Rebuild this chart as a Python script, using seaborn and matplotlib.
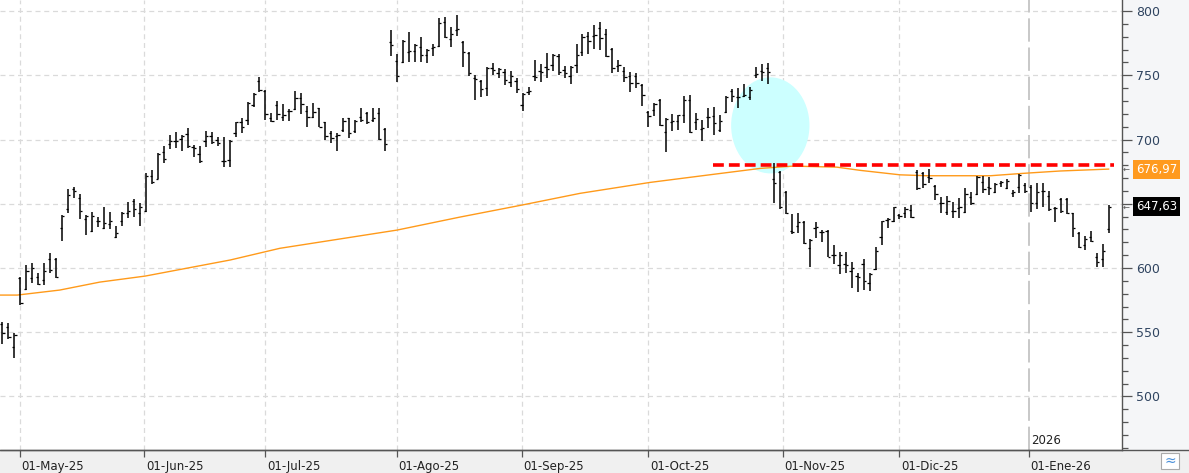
import seaborn as sns
import matplotlib.pyplot as plt
import matplotlib.transforms as mtransforms
from matplotlib.patches import Ellipse, Rectangle
from matplotlib.lines import Line2D
import pandas as pd
import numpy as np

sns.set_style("white")
plt.rcParams['font.family'] = ['DejaVu Sans']

# daily OHLC bars (one entry per session)
opens = [556, 554.3, 538.7, 592, 583.3, 591.9, 592.7, 590.6, 606.7, 606.7,
         630.8, 645.6, 661.2, 654.7, 637.8, 629, 636.3, 631.3, 634.2, 624.3,
         636.3, 642.5, 652.4, 642.5, 644.6, 671.6, 669.5, 690.5, 696.5, 698.8,
         700.1, 704.3, 694.4, 688.7, 699.1, 702.7, 699.6, 683.5, 684, 705.3,
         713.3, 715.1, 726.8, 745.5, 737.7, 716.4, 726.8, 717.7, 722.2, 723.7,
         732, 722.2, 717.7, 724.2, 713.3, 704.8, 702.9, 707.4, 716.4, 706.6,
         717.7, 720.3, 715.1, 720.3, 708.1, 775.6, 761.1, 760, 768.3, 768.9,
         772.2, 765.7, 770.9, 773, 791.2, 778.2, 785.2, 775.6, 767, 748.1,
         745.5, 739.8, 755.4, 751.5, 752.8, 744.5, 745.5, 726.8, 736.7, 749.7,
         753.3, 756.7, 758, 765.2, 754.1, 749.7, 758, 767.8, 780.8, 780.8,
         787, 781.8, 770.4, 757.4, 753.3, 749.7, 749.7, 742.4, 721.1, 722.9,
         730.7, 706.1, 713.9, 714.4, 719, 731, 713.3, 708.2, 717.7, 718.5,
         707.4, 721.1, 737.7, 733.3, 734.1, 733.3, 750.2, 753.3, 755.4, 669.2,
         674.9, 659.4, 628.7, 632.9, 636, 615.8, 631.3, 628.2, 628.7, 610.1,
         602.3, 602.8, 597.6, 594, 602.8, 588, 599.2, 624.3, 637.3, 636.5,
         641.2, 642.5, 645.1, 674.9, 673.6, 670.5, 663.8, 650.3, 643.8, 644.6,
         646.4, 643.8, 654.9, 657.5, 667.1, 662.7, 659.4, 665.8, 662, 658.6,
         663.3, 664.6, 662.7, 650.3, 660.1, 656, 646.4, 653.4, 653.4, 642.5,
         627.4, 617.8, 623.8, 608.8, 606.7, 630]
highs = [558.2, 556.9, 549.1, 593.2, 602.3, 604.1, 596.3, 604.1, 611.9, 607.5,
         641.2, 661.4, 663.3, 657.5, 641.2, 643.8, 639.4, 647.7, 643.8, 632.6,
         643.8, 651.6, 653.4, 650.3, 673.6, 676.2, 689.2, 694.9, 703.5, 706.1,
         703.5, 708.7, 695.7, 694.9, 706.9, 706.1, 701.7, 702.2, 699.6, 713.9,
         716.9, 728.9, 735.9, 748.9, 738.5, 720.3, 729.9, 727.3, 723.7, 737.7,
         735.9, 726.3, 728.1, 724.8, 713.9, 706.6, 704.8, 716.9, 716.4, 715.1,
         724.8, 721.6, 724.8, 724.8, 708.7, 785.2, 766.3, 777.4, 783.4, 774.1,
         780, 770.4, 774.1, 794.3, 795.6, 787.8, 796.9, 776.6, 767.8, 750.2,
         746.3, 756.7, 759.3, 755.9, 754.9, 753.3, 748.1, 735.9, 741.1, 761.9,
         758.5, 767, 766.3, 766.3, 757.4, 757.4, 774.1, 781.8, 783.4, 789.1,
         791.2, 786, 770.9, 761.9, 756.7, 752.3, 751.5, 742.9, 722.2, 728.1,
         731.5, 716.4, 719.6, 719, 734.1, 734.6, 720.3, 715.2, 724.8, 725.5,
         719.1, 734.1, 739.3, 739.8, 742.9, 741.1, 756.7, 758.5, 759.3, 681.4,
         675.5, 659.9, 641.7, 642.5, 636.5, 622.5, 635.5, 629.5, 629.5, 617.9,
         612.7, 612.2, 604.4, 595.8, 607, 595.8, 616.6, 636.5, 638.6, 647.7,
         641.7, 647.7, 649, 676.2, 674.9, 676.7, 664.6, 655, 656, 651.6,
         654.2, 662, 659.4, 671.6, 671.6, 670.5, 665.8, 667.9, 669, 660.7,
         673.1, 665.8, 664.6, 665.8, 665.8, 660.1, 647.7, 654.2, 654.2, 643,
         628.2, 624.8, 629, 611.4, 618.6, 649]
lows = [540.5, 544.4, 529.6, 571.2, 582.8, 588, 586.5, 586.5, 596.3, 591.9,
        621.2, 643, 654.2, 638.4, 625.9, 628.2, 632.1, 630.1, 630.1, 623,
        632.9, 638.6, 639.4, 632.9, 643.8, 665.1, 669, 682, 692.3, 693.1,
        691.3, 693.1, 686.6, 681.4, 693.9, 696.5, 694.9, 678.8, 678.8, 702.2,
        705.3, 711.3, 725.5, 736.7, 715.1, 713.3, 715.1, 714.4, 714.4, 722.9,
        719.6, 709.9, 716.9, 709.9, 699.6, 697, 691, 706.1, 701.4, 704.8,
        713.9, 711.8, 713.3, 699.6, 691, 765.2, 745, 759.3, 760, 760,
        760, 759.3, 765.2, 772.2, 778.7, 772.2, 780.8, 756.7, 749.7, 730.7,
        733.3, 734.1, 750.2, 748.1, 742.4, 741.1, 735.9, 722.2, 734.6, 745.5,
        745, 747.6, 753.3, 750.2, 748.1, 743.4, 751.5, 765.2, 766.3, 770.4,
        769.6, 764.4, 751.5, 752.8, 745, 737.2, 739.8, 726.3, 709.9, 718.5,
        710.7, 690.5, 706.6, 707.4, 712.6, 704.8, 707.4, 698.8, 709.2, 703.5,
        706.1, 720.3, 728.9, 724.2, 733.3, 730.7, 748.1, 745.5, 742.9, 650.3,
        645.9, 641.7, 626.2, 627, 618.4, 601, 623.6, 620, 608.8, 602.8,
        595, 595.8, 584.1, 581, 582.8, 582, 598.4, 617.9, 631.3, 636,
        638.1, 639.1, 639.1, 660.7, 662, 665.8, 652.9, 643, 641.2, 638.6,
        638.6, 643, 649, 656.8, 658.6, 656.8, 658, 662.7, 661.2, 654.9,
        658.1, 658.6, 643.8, 645.6, 647.7, 644.6, 636, 643, 642, 624.3,
        615.3, 614, 620.4, 600.5, 600.5, 626.9]
closes = [549.6, 546, 547.8, 572.5, 597.6, 599.7, 587.5, 597.9, 598.4, 592.7,
          640.4, 656.8, 660.1, 644.3, 640.4, 640.4, 636.3, 635.2, 636.8, 626.9,
          642.5, 644.3, 645.6, 647.7, 671.6, 667.2, 688.7, 684.5, 699.1, 698.8,
          702.7, 694.9, 693.1, 683.2, 702.7, 698.3, 697, 683.5, 698.8, 713.3,
          709.9, 728.1, 735.1, 738.5, 719.6, 714.4, 719.6, 719, 722.2, 732.5,
          727.3, 717.7, 721.1, 709.9, 702.9, 700.9, 703.5, 714.4, 704.8, 714.4,
          715.1, 713.3, 716.9, 700.1, 696.2, 773.5, 749.7, 776.6, 768.9, 773.5,
          765.7, 769.6, 772.2, 790.4, 780, 781.8, 786, 767.8, 751.5, 747.1,
          739.3, 755.9, 754.1, 754.9, 746.3, 749.7, 739.3, 735.1, 737.7, 748.9,
          752.3, 754.9, 765.7, 752.3, 751.5, 756.7, 765.7, 780, 776.6, 781.3,
          778.7, 765.2, 755.4, 758, 748.9, 743.7, 743.7, 734.6, 718.5, 727.3,
          711.3, 715.9, 714.4, 719, 730.7, 706, 715.9, 709.2, 717.7, 712.6,
          714.4, 733.3, 734.1, 733.3, 734.6, 738.5, 750.7, 752.8, 752.8, 665.9,
          647.7, 642.5, 627.7, 636, 619.2, 621.7, 632.1, 627.7, 608.8, 610.1,
          610.1, 602.3, 599.7, 593.2, 589.8, 595, 613.2, 636.5, 638.1, 647.7,
          640.7, 645.9, 639.9, 662, 665.3, 669.7, 657.5, 650.8, 652.3, 644.6,
          647.2, 657.5, 650.3, 671, 661.2, 662, 665.3, 667.1, 667.9, 659.4,
          672.3, 660.1, 650.8, 659.4, 660.1, 645.6, 646.4, 644.6, 643, 630.8,
          616, 622.3, 621.2, 604.9, 613.4, 647.63]

# month boundaries (session index) and labels
month_pos = [3, 23.75, 44, 66, 86.9, 108, 130.5, 150, 171.6]
month_labels = ["01-May-25", "01-Jun-25", "01-Jul-25", "01-Ago-25", "01-Sep-25",
                "01-Oct-25", "01-Nov-25", "01-Dic-25", "01-Ene-26"]
year_pos = 171.6
year_label = "2026"

# price scale: 650 is hidden under the last-price box
price_ticks = [500, 550, 600, 650, 700, 750, 800]
price_labels = ["500", "550", "600", "", "700", "750", "800"]

# long moving average, read at a few points
ma_pos = [-0.4, 2.5, 9.6, 16.3, 23.9, 38.1, 46.4, 66, 76.5, 86.9, 96.6, 108.3,
          118.9, 126.7, 132.2, 139.5, 143.4, 150.1, 154.6, 165.2, 170.5, 176.9,
          182.4, 185]
ma_vals = [578.9, 578.9, 582.8, 589, 593.7, 606.2, 615.3, 629.5, 639.6, 649.0,
           658.1, 666.6, 672.9, 677.5, 679.3, 678.5, 676.0, 672.5, 671.8, 671.8,
           673.6, 675.5, 676.5, 676.97]
ma_last = 676.97
last_close = 647.63

# drawn annotations
resist_level = 680
resist_start, resist_end = 118.8, 185.8
circle_center = (128.4, 711)
circle_size = (13.1, 74.8)

W, H = 1189, 473
fig = plt.figure(figsize=(W / 100, H / 100), dpi=100, facecolor="#f0f0f0")
# right price-scale panel, behind the axes
fig.patches.append(Rectangle((1122 / W, 23 / H), 1 - 1122 / W, 1 - 23 / H,
                             transform=fig.transFigure, facecolor="#f5f6f8",
                             edgecolor="none", zorder=-5))
ax = fig.add_axes([0, 23 / H, 1122 / W, 450 / H])
ax.set_facecolor("white")

df = pd.DataFrame({"open": opens, "high": highs, "low": lows, "close": closes})
df["i"] = np.arange(len(df))

ax.add_patch(Ellipse(circle_center, *circle_size, facecolor="#ccffff",
                     edgecolor="none", zorder=1))

grid_kw = dict(color="#dadada", lw=0.9, ls=(0, (4, 3)), zorder=0.5)
for v in price_ticks:
    ax.axhline(v, **grid_kw)
for p in month_pos[:-1]:
    ax.axvline(p, **grid_kw)
ax.axvline(year_pos, color="#c8c8c8", lw=1.4, ls=(0, (12, 3)), zorder=0.5)

sns.lineplot(x=ma_pos, y=ma_vals, color="#ff9a1a", lw=1.0, ax=ax, zorder=2)

ax.hlines([resist_level], resist_start, resist_end, color="#ff0000", lw=2.6,
          linestyles=[(0, (3, 1.4))], zorder=3)

ax.vlines(df["i"], df["low"], df["high"], color="black", lw=1.1, zorder=4)
ax.hlines(df["open"], df["i"] - 0.38, df["i"], color="black", lw=0.9, zorder=4)
ax.hlines(df["close"], df["i"], df["i"] + 0.38, color="black", lw=0.9, zorder=4)

ax.set_xlim(-0.385, 187.2)
ax.set_ylim(458.3, 808.6)

ax.yaxis.tick_right()
ax.set_yticks(price_ticks)
ax.set_yticklabels(price_labels)
ax.set_yticks(range(460, 809, 10), minor=True)
ax.tick_params(axis="y", which="major", direction="out", length=7, width=0.9,
               color="#555555", labelsize=9, labelcolor="#2f4460", pad=3,
               right=True, labelright=True)
ax.tick_params(axis="y", which="minor", direction="out", length=4, width=0.9,
               color="#555555", right=True)

ax.set_xticks(month_pos)
ax.set_xticklabels(month_labels)
ax.tick_params(axis="x", which="major", direction="out", length=5, width=0.9,
               color="#555555", labelsize=8.5, labelcolor="#222222", pad=2,
               bottom=True)
shift = mtransforms.ScaledTranslation(1.5 / 100, 0, fig.dpi_scale_trans)
for lab in ax.get_xticklabels():
    lab.set_horizontalalignment("left")
    lab.set_transform(lab.get_transform() + shift)

for side in ["top", "left"]:
    ax.spines[side].set_visible(False)
for side in ["right", "bottom"]:
    ax.spines[side].set_visible(True)
    ax.spines[side].set_color("#555555")
    ax.spines[side].set_linewidth(1.0)
fig.add_artist(Line2D([0, 1], [23 / H, 23 / H], transform=fig.transFigure,
                      color="#555555", lw=1.0))

ax.text(year_pos + 0.4, 465.5, year_label, fontsize=8.5, color="#222222",
        ha="left", va="center")

side = mtransforms.blended_transform_factory(ax.transAxes, ax.transData)
ax.text(1.0125, ma_last, f"{ma_last:.2f}".replace(".", ","), transform=side,
        fontsize=8.5, color="white", ha="left", va="center", clip_on=False,
        bbox=dict(facecolor="#ff9a1f", edgecolor="none", pad=2.2))
ax.text(1.0125, last_close, f"{last_close:.2f}".replace(".", ","), transform=side,
        fontsize=8.5, color="white", ha="left", va="center", clip_on=False,
        bbox=dict(facecolor="black", edgecolor="none", pad=2.2))
for v in [ma_last, last_close]:
    ax.text(1.0008, v, "←", transform=side, fontsize=6, color="#555555",
            ha="left", va="center", clip_on=False)

# small chart-type button at the bottom right
fig.patches.append(Rectangle((1161 / W, 4 / H), 18 / W, 16 / H,
                             transform=fig.transFigure, facecolor="white",
                             edgecolor="#aaaaaa", lw=0.8))
fig.text(1170 / W, 12 / H, "≈", color="#4a90d9", fontsize=10, ha="center",
         va="center")

fig.savefig("out.png", dpi=100, facecolor=fig.get_facecolor())
